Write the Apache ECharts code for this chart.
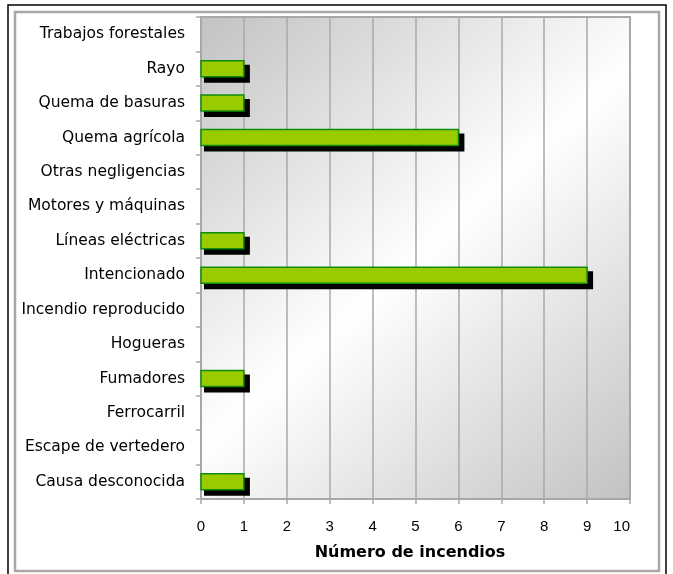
<!DOCTYPE html>
<html>
<head>
<meta charset="utf-8">
<script src="https://cdn.jsdelivr.net/npm/echarts@6/dist/echarts.min.js"></script>
<style>html,body{margin:0;padding:0;background:#fff}#c{width:673px;height:574px}</style>
</head>
<body>
<div id="c"></div>
<script>
const categories = ["Causa desconocida", "Escape de vertedero", "Ferrocarril", "Fumadores", "Hogueras", "Incendio reproducido", "Intencionado", "Líneas eléctricas", "Motores y máquinas", "Otras negligencias", "Quema agrícola", "Quema de basuras", "Rayo", "Trabajos forestales"];
const values = [1, 0, 0, 1, 0, 0, 9, 1, 0, 0, 6, 1, 1, 0];
const xTicks = [0, 1, 2, 3, 4, 5, 6, 7, 8, 9, 10];
const axisTitle = "Número de incendios";

const chart = echarts.init(document.getElementById('c'), null, {renderer: 'canvas'});
const FONT = 'Arial, "Liberation Sans", sans-serif';
const WIDE = '"DejaVu Sans", sans-serif';

function renderBar(params, api) {
  const v = api.value(0);
  const c = api.value(1);
  if (!v) return null;
  const p0 = api.coord([0, c]);
  const p1 = api.coord([v, c]);
  const h = 16;
  const top = p0[1] - h / 2;
  return {
    type: 'group',
    children: [
      {type: 'rect', shape: {x: p0[0] + 3, y: top + 4, width: p1[0] - p0[0] + 3, height: h + 2},
       style: {fill: '#000'}},
      {type: 'rect', shape: {x: p0[0], y: top, width: p1[0] - p0[0], height: h},
       style: {fill: '#99cc00', stroke: '#108a10', lineWidth: 1.5}}
    ]
  };
}

chart.setOption({
  animation: false,
  grid: {
    left: 201, right: 43, top: 17, bottom: 75,
    show: true,
    borderColor: '#a8a8a8', borderWidth: 2,
    backgroundColor: new echarts.graphic.LinearGradient(0, 0, 1, 1, [
      {offset: 0, color: '#c2c2c2'},
      {offset: 0.5, color: '#ffffff'},
      {offset: 1, color: '#c2c2c2'}
    ])
  },
  graphic: [
    {type: 'rect', shape: {x: 8, y: 5, width: 658, height: 600}, style: {fill: 'none', stroke: '#000', lineWidth: 1.5}, silent: true},
    {type: 'rect', shape: {x: 15, y: 12, width: 644, height: 559}, style: {fill: 'none', stroke: '#a8a8a8', lineWidth: 2.5}, silent: true}
  ],
  xAxis: {
    type: 'value', min: xTicks[0], max: xTicks[xTicks.length - 1], interval: 1,
    axisLine: {show: true, lineStyle: {color: '#a8a8a8', width: 2}},
    axisTick: {show: true, length: 5, lineStyle: {color: '#a8a8a8', width: 1.5}},
    splitLine: {show: true, lineStyle: {color: '#a8a8a8', width: 1.5}},
    axisLabel: {color: '#000', fontSize: 15, fontFamily: FONT, margin: 20, alignMaxLabel: 'right'},
    name: axisTitle, nameLocation: 'middle', nameGap: 46,
    nameTextStyle: {color: '#000', fontSize: 16, fontWeight: 'bold', fontFamily: WIDE, padding: [0, 11, 0, 0]}
  },
  yAxis: {
    type: 'category', data: categories,
    axisLine: {show: true, lineStyle: {color: '#a8a8a8', width: 2}},
    axisTick: {show: true, length: 5, lineStyle: {color: '#a8a8a8', width: 1.5}},
    splitLine: {show: false},
    axisLabel: {color: '#000', fontSize: 15.5, fontFamily: WIDE, margin: 16}
  },
  series: [{
    type: 'custom',
    renderItem: renderBar,
    encode: {x: 0, y: 1},
    data: values.map((v, i) => [v, i])
  }]
});
</script>
</body>
</html>
